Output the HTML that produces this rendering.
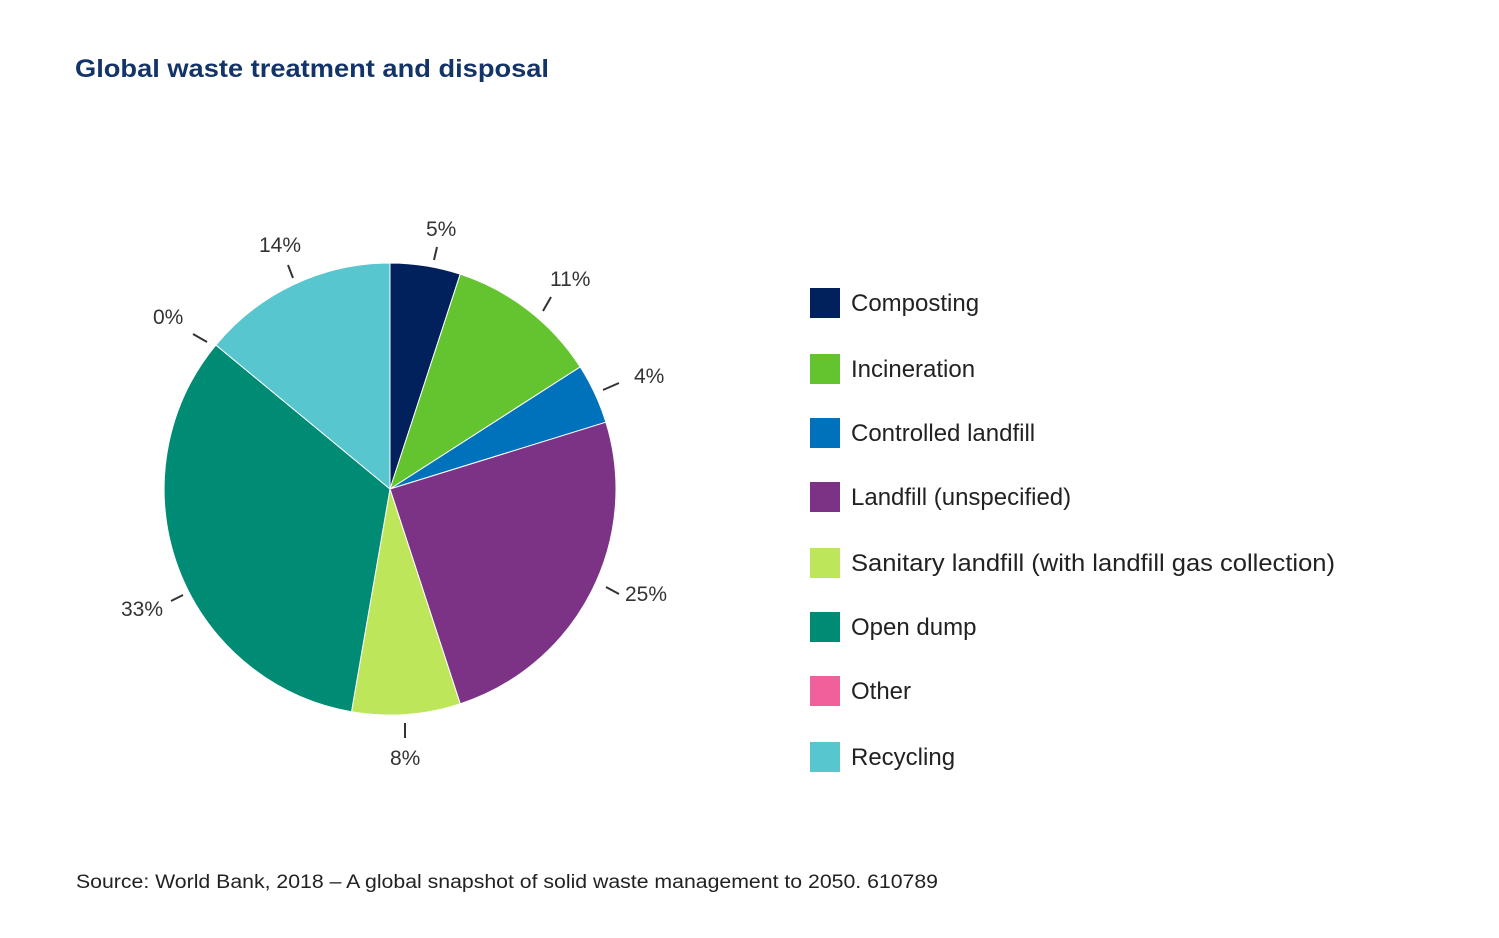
<!DOCTYPE html>
<html><head><meta charset="utf-8"><style>
html,body{margin:0;padding:0;background:#fff;}
body{width:1499px;height:933px;overflow:hidden;}
</style></head><body>
<svg width="1499" height="933" viewBox="0 0 1499 933" xmlns="http://www.w3.org/2000/svg" font-family="Liberation Sans, DejaVu Sans, sans-serif">
<text x="75" y="77" font-size="25" font-weight="bold" fill="#133468" textLength="474" lengthAdjust="spacingAndGlyphs">Global waste treatment and disposal</text>
<g stroke="#fff" stroke-width="1">
<path d="M390,489 L390,263 A226,226 0 0 1 460.2,274.2 Z" fill="#01215c"/>
<path d="M390,489 L460.2,274.2 A226,226 0 0 1 580.2,366.9 Z" fill="#64c430"/>
<path d="M390,489 L580.2,366.9 A226,226 0 0 1 605.9,422.2 Z" fill="#0072bb"/>
<path d="M390,489 L605.9,422.2 A226,226 0 0 1 460.2,703.8 Z" fill="#7c3386"/>
<path d="M390,489 L460.2,703.8 A226,226 0 0 1 351.5,711.7 Z" fill="#bde65a"/>
<path d="M390,489 L351.5,711.7 A226,226 0 0 1 215.9,345 Z" fill="#008b75"/>
<path d="M390,489 L215.9,345 A226,226 0 0 1 390,263 Z" fill="#57c6ce"/>
</g>
<g stroke="#333" stroke-width="2">
<line x1="434" y1="260" x2="437" y2="247"/>
<line x1="543" y1="311" x2="551" y2="297"/>
<line x1="603" y1="390" x2="619" y2="383"/>
<line x1="606" y1="587" x2="619" y2="594"/>
<line x1="405" y1="723" x2="405" y2="738"/>
<line x1="183" y1="595" x2="171" y2="601"/>
<line x1="207" y1="342" x2="193" y2="334"/>
<line x1="293" y1="278" x2="288" y2="265"/>
</g>
<g font-size="21" fill="#333">
<text x="426" y="236">5%</text>
<text x="550" y="286">11%</text>
<text x="634" y="383">4%</text>
<text x="625" y="601">25%</text>
<text x="390" y="765">8%</text>
<text x="121" y="616">33%</text>
<text x="153" y="324">0%</text>
<text x="259" y="252">14%</text>
</g>
<g>
<rect x="810" y="288" width="30" height="30" fill="#01215c"/>
<rect x="810" y="354" width="30" height="30" fill="#64c430"/>
<rect x="810" y="418" width="30" height="30" fill="#0072bb"/>
<rect x="810" y="482" width="30" height="30" fill="#7c3386"/>
<rect x="810" y="548" width="30" height="30" fill="#bde65a"/>
<rect x="810" y="612" width="30" height="30" fill="#008b75"/>
<rect x="810" y="676" width="30" height="30" fill="#f0609a"/>
<rect x="810" y="742" width="30" height="30" fill="#57c6ce"/>
</g>
<g font-size="24" fill="#222">
<text x="851" y="311">Composting</text>
<text x="851" y="377">Incineration</text>
<text x="851" y="441">Controlled landfill</text>
<text x="851" y="505">Landfill (unspecified)</text>
<text x="851" y="571" textLength="484" lengthAdjust="spacingAndGlyphs">Sanitary landfill (with landfill gas collection)</text>
<text x="851" y="635">Open dump</text>
<text x="851" y="699">Other</text>
<text x="851" y="765">Recycling</text>
</g>
<text x="76" y="888" font-size="19" fill="#222" textLength="862" lengthAdjust="spacingAndGlyphs">Source: World Bank, 2018 – A global snapshot of solid waste management to 2050. 610789</text>
</svg>
</body></html>
